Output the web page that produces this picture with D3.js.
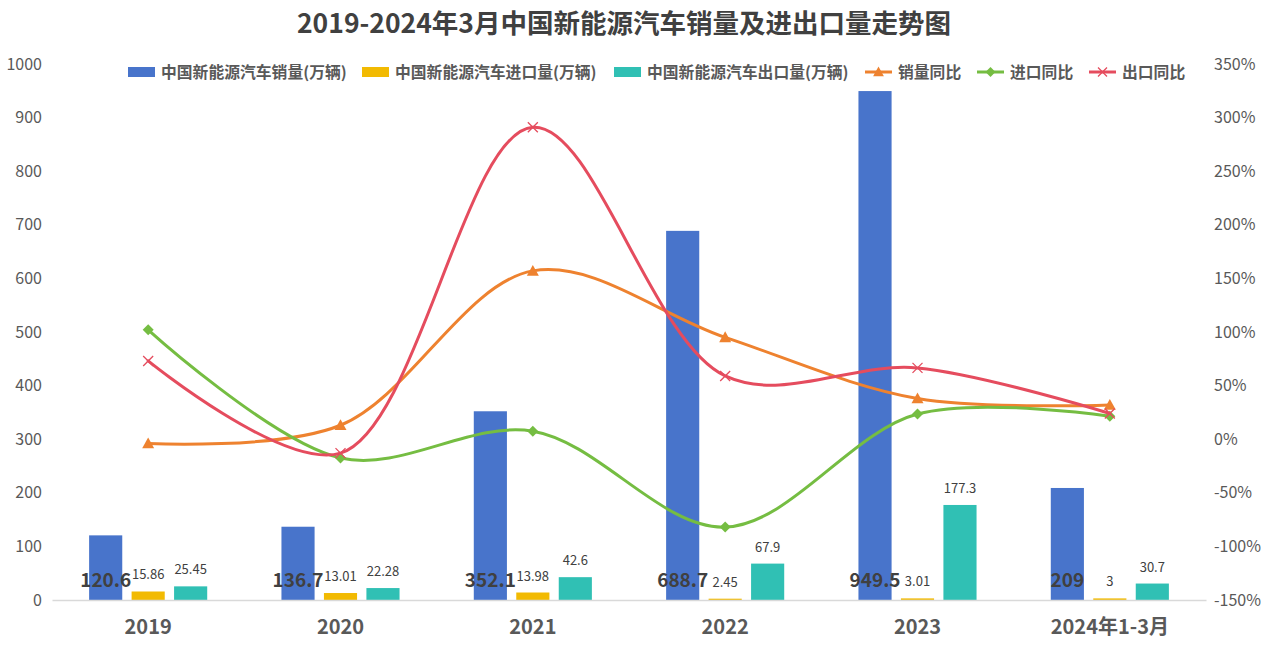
<!DOCTYPE html>
<html>
<head>
<meta charset="utf-8">
<script src="https://cdn.jsdelivr.net/npm/d3@7"></script>
<style>
  html, body { margin: 0; padding: 0; background: #fff; }
  svg { display: block; font-family: "Noto Sans CJK SC", "Noto Sans", sans-serif; }
</style>
</head>
<body>
<svg id="chart" width="1268" height="649"></svg>
<script>
const categories = ["2019", "2020", "2021", "2022", "2023", "2024年1-3月"];
const salesVolume = [120.6, 136.7, 352.1, 688.7, 949.5, 209];
const importVolume = [15.86, 13.01, 13.98, 2.45, 3.01, 3];
const exportVolume = [25.45, 22.28, 42.6, 67.9, 177.3, 30.7];
const salesYoY = [-4, 13, 157, 95, 38, 32];
const importYoY = [102, -17.5, 7.5, -82, 23.5, 21.5];
const exportYoY = [73, -13, 291, 59, 66.5, 24];
const leftTicks = [0, 100, 200, 300, 400, 500, 600, 700, 800, 900, 1000];
const rightTicks = [-150, -100, -50, 0, 50, 100, 150, 200, 250, 300, 350];

const barSeries = [
  {name: "中国新能源汽车销量(万辆)", values: salesVolume, color: "#4874CB"},
  {name: "中国新能源汽车进口量(万辆)", values: importVolume, color: "#F2BA02"},
  {name: "中国新能源汽车出口量(万辆)", values: exportVolume, color: "#30C0B4"}
];
const lineSeries = [
  {name: "销量同比", values: salesYoY, color: "#EE822F", marker: "triangle"},
  {name: "进口同比", values: importYoY, color: "#75BD42", marker: "diamond"},
  {name: "出口同比", values: exportYoY, color: "#E54C5E", marker: "x"}
];

const svg = d3.select("#chart");
const plotLeft = 52, plotRight = 1206, plotTop = 64, plotBottom = 600;

const x0 = d3.scaleBand().domain(categories).range([plotLeft, plotRight]).paddingInner(0.386).paddingOuter(0.193);
const x1 = d3.scaleBand().domain(d3.range(barSeries.length)).range([0, x0.bandwidth()]).paddingInner(0.22).paddingOuter(0);
const yL = d3.scaleLinear().domain([0, 1000]).range([plotBottom, plotTop]);
const yR = d3.scaleLinear().domain([-150, 350]).range([plotBottom, plotTop]);

// Title
svg.append("text").attr("x", 624).attr("y", 33).attr("text-anchor", "middle")
  .attr("font-size", 26.5).attr("font-weight", "bold").attr("fill", "#404040")
  .text("2019-2024年3月中国新能源汽车销量及进出口量走势图");

// Left axis labels
const axL = d3.axisLeft(yL).tickValues(leftTicks).tickSize(0).tickPadding(0).tickFormat(d3.format("d"));
const gL = svg.append("g").attr("transform", `translate(42,0)`).call(axL);
gL.select(".domain").remove();
gL.selectAll("text").attr("font-size", 16).attr("fill", "#595959")
  .attr("font-family", "'Noto Sans CJK SC', sans-serif");

const axR = d3.axisRight(yR).tickValues(rightTicks).tickSize(0).tickPadding(0).tickFormat(d => d + "%");
const gR = svg.append("g").attr("transform", `translate(1214,0)`).call(axR);
gR.select(".domain").remove();
gR.selectAll("text").attr("font-size", 16).attr("fill", "#595959")
  .attr("font-family", "'Noto Sans CJK SC', sans-serif");

// Bars
barSeries.forEach((s, si) => {
  svg.append("g").selectAll("rect").data(s.values).join("rect")
    .attr("x", (d, i) => x0(categories[i]) + x1(si))
    .attr("width", x1.bandwidth())
    .attr("y", d => yL(d))
    .attr("height", d => yL(0) - yL(d))
    .attr("fill", s.color);
});

// X axis
const axB = d3.axisBottom(x0).tickSize(0).tickPadding(0);
const gB = svg.append("g").attr("transform", `translate(0,${plotBottom})`).call(axB);
gB.select(".domain").attr("stroke", "#D9D9D9").attr("stroke-width", 1.3);
gB.selectAll("text").attr("font-size", 20).attr("font-weight", "bold").attr("fill", "#595959")
  .attr("dy", null).attr("y", 34)
  .attr("font-family", "'Noto Sans CJK SC', sans-serif");

// Bar labels
const fmt = d => String(d);
svg.append("g").selectAll("text").data(salesVolume).join("text")
  .attr("x", (d, i) => x0(categories[i]) + x1(0) + x1.bandwidth() / 2)
  .attr("y", 587)
  .attr("text-anchor", "middle").attr("font-size", 19).attr("font-weight", "bold")
  .attr("fill", "#404040").text(fmt);
[1, 2].forEach(si => {
  svg.append("g").selectAll("text").data(barSeries[si].values).join("text")
    .attr("x", (d, i) => x0(categories[i]) + x1(si) + x1.bandwidth() / 2)
    .attr("y", d => yL(d) - 12)
    .attr("text-anchor", "middle").attr("font-size", 13)
    .attr("fill", "#404040").text(fmt);
});

// Lines
const cx = i => x0(categories[i]) + x0.bandwidth() / 2;
const line = d3.line().x((d, i) => cx(i)).y(d => yR(d)).curve(d3.curveCatmullRom.alpha(0.5));

function drawMarker(g, type, x, y, color, scale = 1) {
  if (type === "triangle") {
    const r = 6 * scale;
    g.append("path").attr("d", `M${x},${y - r}L${x + r},${y + r * 0.8}L${x - r},${y + r * 0.8}Z`).attr("fill", color);
  } else if (type === "diamond") {
    const r = 5.5 * scale;
    g.append("path").attr("d", `M${x},${y - r}L${x + r},${y}L${x},${y + r}L${x - r},${y}Z`).attr("fill", color);
  } else {
    const r = 5 * scale;
    g.append("path").attr("d", `M${x - r},${y - r}L${x + r},${y + r}M${x - r},${y + r}L${x + r},${y - r}`)
      .attr("stroke", color).attr("stroke-width", 1.3).attr("fill", "none");
  }
}

lineSeries.forEach(s => {
  const g = svg.append("g");
  g.append("path").datum(s.values).attr("d", line).attr("fill", "none")
    .attr("stroke", s.color).attr("stroke-width", 3).attr("stroke-linecap", "round");
  s.values.forEach((v, i) => drawMarker(g, s.marker, cx(i), yR(v), s.color));
});

// Legend
const legendItems = [
  {type: "rect", x: 128, color: barSeries[0].color, name: barSeries[0].name},
  {type: "rect", x: 362, color: barSeries[1].color, name: barSeries[1].name},
  {type: "rect", x: 614, color: barSeries[2].color, name: barSeries[2].name},
  {type: "line", x: 865, color: lineSeries[0].color, name: lineSeries[0].name, marker: "triangle"},
  {type: "line", x: 977, color: lineSeries[1].color, name: lineSeries[1].name, marker: "diamond"},
  {type: "line", x: 1089, color: lineSeries[2].color, name: lineSeries[2].name, marker: "x"}
];
const lg = svg.append("g");
legendItems.forEach(it => {
  const ly = 72;
  if (it.type === "rect") {
    lg.append("rect").attr("x", it.x).attr("y", ly - 5).attr("width", 27).attr("height", 10).attr("fill", it.color);
  } else {
    lg.append("line").attr("x1", it.x).attr("x2", it.x + 27).attr("y1", ly).attr("y2", ly)
      .attr("stroke", it.color).attr("stroke-width", 3);
    drawMarker(lg, it.marker, it.x + 13.5, ly, it.color, 0.9);
  }
  lg.append("text").attr("x", it.x + 33).attr("y", ly).attr("dy", "0.35em")
    .attr("font-size", 15.8).attr("font-weight", "bold").attr("fill", "#595959").text(it.name);
});
</script>
</body>
</html>
